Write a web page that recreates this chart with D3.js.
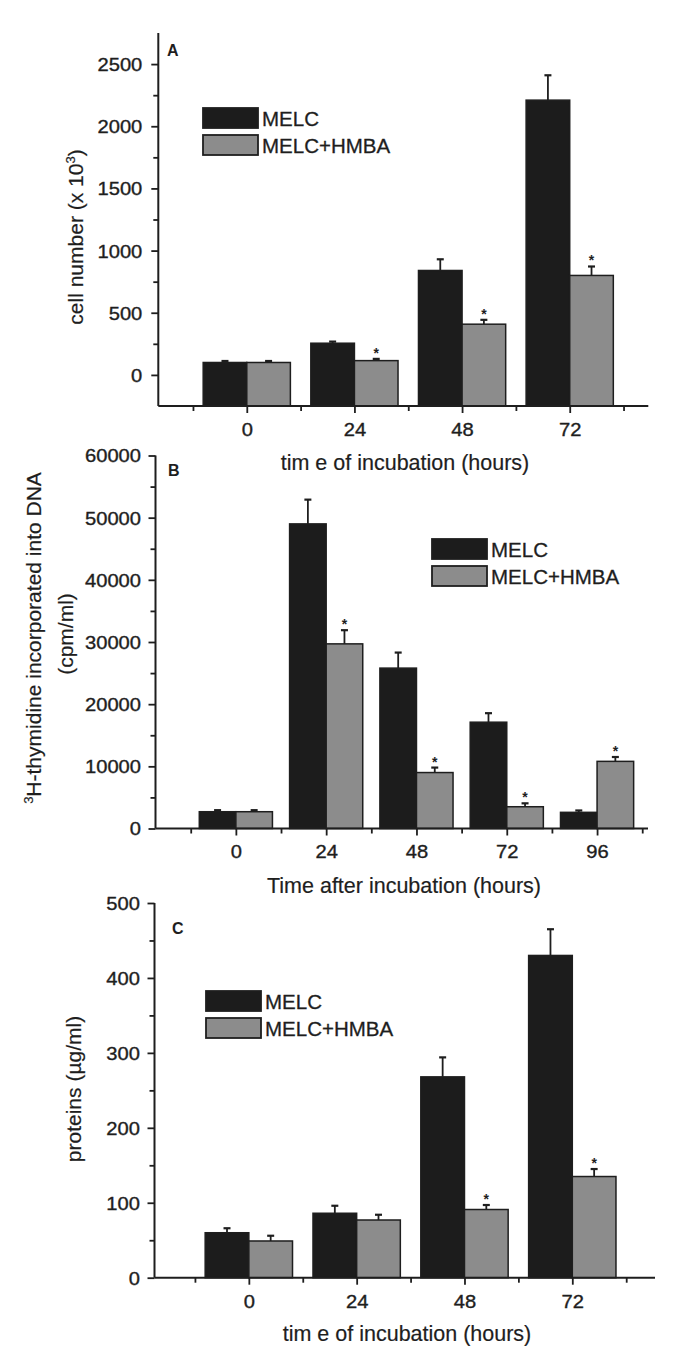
<!DOCTYPE html>
<html>
<head>
<meta charset="utf-8">
<script src="https://cdn.jsdelivr.net/npm/d3@7"></script>
<style>
  html, body { margin: 0; padding: 0; background: #fff; }
  svg { display: block; }
  text { font-family: "Liberation Sans", Arial, sans-serif; fill: #1e1e1e; }
</style>
</head>
<body>
<svg id="chart" width="687" height="1357"></svg>
<script>
// ---------- data ----------
const seriesNames = ["MELC", "MELC+HMBA"];

// Panel A: cell number (x 10^3)
const catsA = ["0", "24", "48", "72"];
const melcA = [100, 255, 840, 2210];
const melcAErr = [12, 13, 90, 200];
const hmbaA = [100, 115, 408, 800];
const hmbaAErr = [12, 14, 35, 72];
const starsA = [false, true, true, true];
const yTicksA = [0, 500, 1000, 1500, 2000, 2500];

// Panel B: 3H-thymidine incorporated into DNA (cpm/ml)
const catsB = ["0", "24", "48", "72", "96"];
const melcB = [2700, 49000, 25800, 17100, 2600];
const melcBErr = [250, 3900, 2500, 1450, 300];
const hmbaB = [2700, 29700, 9000, 3500, 10800];
const hmbaBErr = [250, 2200, 800, 550, 700];
const starsB = [false, true, true, true, true];
const yTicksB = [0, 10000, 20000, 30000, 40000, 50000, 60000];

// Panel C: proteins (µg/ml)
const catsC = ["0", "24", "48", "72"];
const melcC = [60, 86, 268, 430];
const melcCErr = [6, 10, 26, 35];
const hmbaC = [49, 77, 91, 135];
const hmbaCErr = [7, 7, 6, 10];
const starsC = [false, false, true, true];
const yTicksC = [0, 100, 200, 300, 400, 500];

const BLACK = "#1c1c1c", GRAY = "#8c8c8c", INK = "#1e1e1e";
const SX = 1.12;   // horizontal stretch of tick labels

const svg = d3.select("#chart");

function panel(cfg) {
  const g = svg.append("g");
  const n = cfg.cats.length;
  const x = d3.scaleLinear().domain(cfg.xDomain).range(cfg.xRange);
  const y = d3.scaleLinear().domain(cfg.yDomain).range(cfg.yRange);
  const unit = x(1) - x(0);
  const bw = unit * 0.405;
  const axisY = cfg.yRange[0];

  const series = [
    {vals: cfg.melc, err: cfg.melcErr, fill: BLACK, off: -1, stars: null},
    {vals: cfg.hmba, err: cfg.hmbaErr, fill: GRAY, off: 0, stars: cfg.stars}
  ];
  series.forEach(s => {
    s.vals.forEach((v, i) => {
      const x0 = x(i) + s.off * bw;
      const cx = x0 + bw / 2;
      const top = y(v + s.err[i]);
      g.append("line").attr("x1", cx).attr("x2", cx).attr("y1", y(v)).attr("y2", top)
        .attr("stroke", INK).attr("stroke-width", 1.8);
      g.append("line").attr("x1", cx - 3.5).attr("x2", cx + 3.5).attr("y1", top).attr("y2", top)
        .attr("stroke", INK).attr("stroke-width", 2.2);
      g.append("rect").attr("x", x0).attr("y", y(v)).attr("width", bw)
        .attr("height", axisY - y(v))
        .attr("fill", s.fill).attr("stroke", INK).attr("stroke-width", 1.5);
      if (s.stars && s.stars[i]) {
        g.append("text").attr("x", cx).attr("y", top - 1).attr("text-anchor", "middle")
          .attr("font-size", 14).attr("font-weight", "bold").text("*");
      }
    });
  });

  // y axis (major)
  const yAxis = d3.axisLeft(y).tickValues(cfg.yTicks).tickSize(7).tickFormat(d3.format("d"));
  const ya = g.append("g").attr("transform", `translate(${cfg.xRange[0]},0)`).call(yAxis);
  ya.select(".domain").attr("stroke", INK).attr("stroke-width", 2)
    .attr("d", `M0,${cfg.yRange[1]}V${cfg.yRange[0]}`);
  ya.selectAll(".tick line").attr("stroke", INK).attr("stroke-width", 1.8);
  ya.selectAll(".tick text").attr("font-size", 18).attr("fill", INK)
    .attr("stroke", INK).attr("stroke-width", 0.35)
    .attr("transform", `scale(${SX},1)`).attr("x", -cfg.yLabelGap / SX).attr("dy", "0.36em")
    .style("font-family", "'Liberation Sans', Arial, sans-serif");
  // y axis (minor)
  const ym = g.append("g").attr("transform", `translate(${cfg.xRange[0]},0)`)
    .call(d3.axisLeft(y).tickValues(cfg.yMinor).tickSize(5).tickFormat(""));
  ym.select(".domain").remove();
  ym.selectAll(".tick line").attr("stroke", INK).attr("stroke-width", 1.8);

  // x axis: category ticks (labelled) + in-between ticks
  const xa = g.append("g").attr("transform", `translate(0,${axisY})`)
    .call(d3.axisBottom(x).tickValues(d3.range(0, n)).tickSize(7).tickPadding(0)
      .tickFormat(d => cfg.cats[d]));
  xa.select(".domain").attr("stroke", INK).attr("stroke-width", 2)
    .attr("d", `M${cfg.xRange[0]},0H${cfg.xRange[1]}`);
  xa.selectAll(".tick line").attr("stroke", INK).attr("stroke-width", 1.8);
  xa.selectAll(".tick text").attr("font-size", 18).attr("fill", INK)
    .attr("stroke", INK).attr("stroke-width", 0.35)
    .attr("transform", `scale(${SX},1)`).attr("y", 30).attr("dy", 0)
    .style("font-family", "'Liberation Sans', Arial, sans-serif");
  const xm = g.append("g").attr("transform", `translate(0,${axisY})`)
    .call(d3.axisBottom(x).tickValues(d3.range(-0.5, n, 1)).tickSize(5).tickFormat(""));
  xm.select(".domain").remove();
  xm.selectAll(".tick line").attr("stroke", INK).attr("stroke-width", 1.8);

  // panel letter
  g.append("text").attr("x", cfg.letterPos[0]).attr("y", cfg.letterPos[1])
    .attr("font-size", 16).attr("font-weight", "bold").text(cfg.letter);

  // axis titles
  g.append("text").attr("x", cfg.xTitlePos[0]).attr("y", cfg.xTitlePos[1])
    .attr("text-anchor", "middle").attr("font-size", 21.5)
    .attr("stroke", INK).attr("stroke-width", 0.2).text(cfg.xTitle);
  cfg.yTitle(g);

  // legend
  const [lx, ly] = cfg.legendPos;
  [BLACK, GRAY].forEach((c, i) => {
    g.append("rect").attr("x", lx).attr("y", ly + i * 27).attr("width", 55).attr("height", 20)
      .attr("fill", c).attr("stroke", INK).attr("stroke-width", 1.8);
    g.append("text").attr("x", lx + 59).attr("y", ly + i * 27 + 18)
      .attr("font-size", 20.5).attr("stroke", INK).attr("stroke-width", 0.3)
      .text(seriesNames[i]);
  });
}

function rotTitle(g, cx, cy, parts) {
  const t = g.append("text").attr("transform", `translate(${cx},${cy}) rotate(-90)`)
    .attr("text-anchor", "middle").attr("font-size", 21)
    .attr("stroke", INK).attr("stroke-width", 0.2);
  parts.forEach(p => {
    const s = t.append("tspan").text(p.t);
    if (p.sup) s.attr("font-size", 13).attr("dy", -8);
    if (p.down) s.attr("dy", 8);
  });
}

panel({
  cats: catsA, melc: melcA, melcErr: melcAErr, hmba: hmbaA, hmbaErr: hmbaAErr, stars: starsA,
  xDomain: [-0.822, 3.73], xRange: [158.3, 648.3],
  yDomain: [-250, 2750], yRange: [406, 33],
  yTicks: yTicksA, yMinor: d3.range(250, 2750, 500), yLabelGap: 16,
  letter: "A", letterPos: [167, 56],
  xTitle: "tim e of incubation (hours)", xTitlePos: [405, 470],
  legendPos: [203, 108],
  yTitle: g => rotTitle(g, 83, 237, [{t: "cell number (x 10"}, {t: "3", sup: true}, {t: ")", down: true}])
});

panel({
  cats: catsB, melc: melcB, melcErr: melcBErr, hmba: hmbaB, hmbaErr: hmbaBErr, stars: starsB,
  xDomain: [-0.89, 4.564], xRange: [155.5, 648],
  yDomain: [0, 60000], yRange: [828.5, 455.5],
  yTicks: yTicksB, yMinor: d3.range(5000, 60000, 10000), yLabelGap: 14.5,
  letter: "B", letterPos: [168, 476],
  xTitle: "Time after incubation (hours)", xTitlePos: [404, 893],
  legendPos: [432, 539],
  yTitle: g => {
    rotTitle(g, 41, 638, [{t: "3", sup: true}, {t: "H-thymidine incorporated into DNA", down: true}]);
    rotTitle(g, 73, 634, [{t: "(cpm/ml)"}]);
  }
});

panel({
  cats: catsC, melc: melcC, melcErr: melcCErr, hmba: hmbaC, hmbaErr: hmbaCErr, stars: starsC,
  xDomain: [-0.875, 3.767], xRange: [154.5, 655],
  yDomain: [0, 500], yRange: [1277.7, 903],
  yTicks: yTicksC, yMinor: d3.range(50, 500, 100), yLabelGap: 14.5,
  letter: "C", letterPos: [172, 934],
  xTitle: "tim e of incubation (hours)", xTitlePos: [407, 1341],
  legendPos: [206, 991],
  yTitle: g => rotTitle(g, 81, 1089, [{t: "proteins (µg/ml)"}])
});
</script>
</body>
</html>
